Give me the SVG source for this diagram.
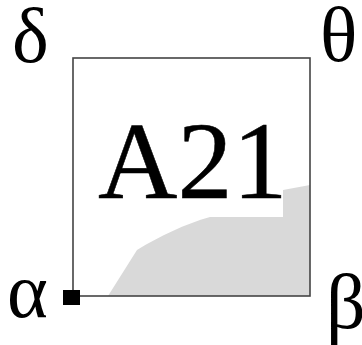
<svg xmlns="http://www.w3.org/2000/svg" width="362" height="345" viewBox="0 0 362 345">
<style>
.lbl{font-family:"Liberation Serif","Times New Roman",serif;font-size:78px;fill:#000}
.title{font-family:"Liberation Serif","Times New Roman",serif;font-size:110px;fill:#000;stroke:#000;stroke-width:0.5}
</style>
<rect width="362" height="345" fill="#fff"/>
<g id="block">
<path d="M108,296 L137,250 C160,236 185,224 210,217 L283,217 L283,190 L310,185 L310,296 Z" fill="#d9d9d9"/>
<rect x="73" y="58" width="237" height="238" fill="none" stroke="#444" stroke-width="1.6"/>
<text class="title" x="98" y="198">A21</text>
</g>
<g id="connectors"></g>
<g id="port-alpha">
<rect x="63" y="290" width="17" height="15" fill="#000"/>
<text class="lbl" x="7" y="317">α</text>
</g>
<g id="label-delta"><text class="lbl" x="12" y="62">δ</text></g>
<g id="label-theta"><text class="lbl" x="320" y="61">θ</text></g>
<g id="label-beta"><text class="lbl" x="326" y="328">β</text></g>
</svg>
